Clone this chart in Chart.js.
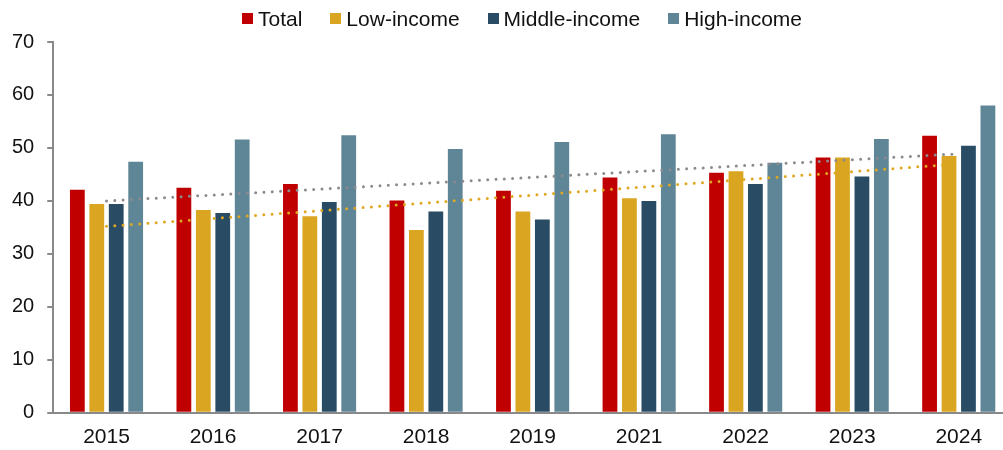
<!DOCTYPE html>
<html>
<head>
<meta charset="utf-8">
<script src="https://cdn.jsdelivr.net/npm/chart.js@4/dist/chart.umd.min.js"></script>
<style>
  html, body { margin: 0; padding: 0; background: #fff; overflow: hidden; }
  #wrap { position: relative; width: 1003px; height: 450px; overflow: hidden; }
  #chart { position: absolute; left: -1px; top: 0; }
  #legend {
    position: absolute; top: 7px; left: 242px;
    display: flex; gap: 28px;
    font-family: "Liberation Sans", Arial, sans-serif; font-size: 21px; line-height: 23px; color: #111;
  }
  #legend .item { display: flex; align-items: center; white-space: nowrap; }
  #legend .box { width: 11px; height: 11px; margin-right: 5px; }
</style>
</head>
<body>
<div id="wrap">
  <canvas id="chart" width="1013" height="464"></canvas>
  <div id="legend"></div>
</div>
<script>
// categories and series
const years = ['2015', '2016', '2017', '2018', '2019', '2021', '2022', '2023', '2024'];
const total = [42.1, 42.5, 43.2, 40.1, 41.9, 44.4, 45.3, 48.2, 52.3];
const lowIncome = [39.4, 38.3, 37.1, 34.5, 38.0, 40.5, 45.6, 48.2, 48.5];
const middleIncome = [39.4, 37.7, 39.8, 38.0, 36.5, 40.0, 43.2, 44.6, 50.4];
const highIncome = [47.4, 51.6, 52.4, 49.8, 51.1, 52.6, 47.2, 51.7, 58.0];

// linear trend lines (start and end only)
const totalTrend = [40.0, null, null, null, null, null, null, null, 48.9];
const lowTrend = [35.2, null, null, null, null, null, null, null, 47.0];

const yTicks = [0, 10, 20, 30, 40, 50, 60, 70];

const FONT = '"Liberation Sans", Arial, sans-serif';
const AXIS = '#898989';

function bar(label, data, color) {
    return {
        type: 'bar',
        label: label,
        data: data,
        backgroundColor: color,
        borderWidth: 0,
        categoryPercentage: 0.73,
        barPercentage: 0.76,
        order: 1
    };
}

function trend(data, color) {
    return {
        type: 'line',
        label: '',
        data: data,
        spanGaps: true,
        borderColor: color,
        borderWidth: 3,
        borderDash: [0, 8.3],
        borderCapStyle: 'round',
        pointRadius: 0,
        fill: false,
        order: 0
    };
}

const chart = new Chart(document.getElementById('chart'), {
    type: 'bar',
    data: {
        labels: years,
        datasets: [
            bar('Total', total, '#c00000'),
            bar('Low-income', lowIncome, '#daa520'),
            bar('Middle-income', middleIncome, '#294c64'),
            bar('High-income', highIncome, '#5f8696'),
            trend(totalTrend, '#8c8a8e'),
            trend(lowTrend, '#e0a820')
        ]
    },
    options: {
        responsive: false,
        animation: false,
        layout: { padding: { top: 42, left: 0, right: 0, bottom: 2 } },
        plugins: {
            legend: { display: false },
            tooltip: { enabled: false }
        },
        scales: {
            x: {
                grid: { drawOnChartArea: false, drawTicks: false },
                border: { color: AXIS, width: 2 },
                ticks: { color: '#111', font: { family: FONT, size: 21 }, padding: 12, maxRotation: 0 }
            },
            y: {
                min: 0,
                max: 70,
                afterBuildTicks: (scale) => { scale.ticks = yTicks.map(v => ({ value: v })); },
                grid: { drawOnChartArea: false, drawTicks: true, tickLength: 6, color: AXIS, lineWidth: 2 },
                border: { color: AXIS, width: 2 },
                ticks: { color: '#111', font: { family: FONT, size: 20 }, padding: 13 }
            }
        }
    }
});

// legend for the bar series
const legend = document.getElementById('legend');
chart.data.datasets.filter(d => d.type === 'bar').forEach(d => {
    const item = document.createElement('div');
    item.className = 'item';
    const box = document.createElement('span');
    box.className = 'box';
    box.style.background = d.backgroundColor;
    item.appendChild(box);
    item.appendChild(document.createTextNode(d.label));
    legend.appendChild(item);
});
</script>
</body>
</html>
